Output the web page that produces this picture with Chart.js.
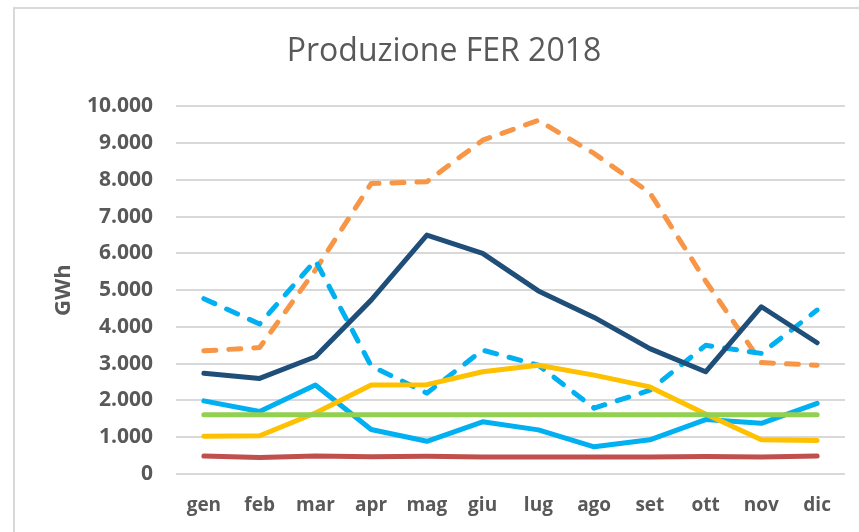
<!DOCTYPE html>
<html lang="it">
<head>
    <meta charset="UTF-8">
    <title>Produzione FER 2018</title>
    <script src="https://cdn.jsdelivr.net/npm/chart.js"></script>
    <style>
        html, body { margin: 0; padding: 0; background: #fff; overflow: hidden; }
        #wrap { position: relative; width: 859px; height: 532px; }
        #frame { position: absolute; left: 13px; top: 7px; width: 900px; height: 600px;
                 border: 2px solid #d9d9d9; box-sizing: border-box; }
        canvas { position: absolute; left: 0; top: 0; }
    </style>
</head>
<body>
    <div id="wrap">
        <div id="frame"></div>
        <canvas id="myChart" width="859" height="532"></canvas>
    </div>

    <script>
        // mesi e serie (GWh)
        const mesi = ['gen', 'feb', 'mar', 'apr', 'mag', 'giu', 'lug', 'ago', 'set', 'ott', 'nov', 'dic'];
        const serieArancio = [3350, 3440, 5550, 7900, 7950, 9080, 9620, 8720, 7650, 5250, 3030, 2960];
        const serieBlu = [2740, 2600, 3190, 4730, 6500, 6000, 4980, 4260, 3410, 2780, 4550, 3570];
        const serieAzzurroTratt = [4770, 4080, 5810, 2940, 2200, 3370, 2960, 1790, 2280, 3500, 3280, 4460];
        const serieAzzurro = [1990, 1700, 2420, 1210, 890, 1420, 1200, 740, 930, 1480, 1380, 1920];
        const serieGiallo = [1030, 1040, 1660, 2420, 2430, 2780, 2960, 2690, 2370, 1630, 930, 910];
        const serieVerde = [1610, 1610, 1610, 1610, 1610, 1610, 1610, 1610, 1610, 1610, 1610, 1610];
        const serieRosso = [490, 450, 490, 470, 480, 465, 465, 465, 465, 475, 465, 490];
        const tickY = [0, 1000, 2000, 3000, 4000, 5000, 6000, 7000, 8000, 9000, 10000];

        const grigio = '#595959';
        const font = 'Open Sans';

        function linea(dati, colore, tratteggio) {
            return {
                data: dati,
                borderColor: colore,
                backgroundColor: colore,
                borderWidth: 5,
                borderDash: tratteggio ? [12, 13] : [],
                borderCapStyle: 'round',
                borderJoinStyle: 'round',
                pointRadius: 0,
                tension: 0,
                fill: false
            };
        }

        const config = {
            type: 'line',
            data: {
                labels: mesi,
                datasets: [
                    linea(serieRosso, '#c0504d', false),
                    linea(serieVerde, '#92d050', false),
                    linea(serieGiallo, '#ffc000', false),
                    linea(serieAzzurro, '#00b0f0', false),
                    linea(serieBlu, '#1f4e79', false),
                    linea(serieAzzurroTratt, '#00b0f0', true),
                    linea(serieArancio, '#f79646', true)
                ]
            },
            options: {
                responsive: false,
                animation: false,
                layout: { padding: { left: 43, right: 14, top: 0, bottom: 0 } },
                plugins: {
                    legend: { display: false },
                    tooltip: { enabled: false },
                    title: {
                        display: true,
                        text: 'Produzione FER 2018',
                        color: grigio,
                        font: { family: font, size: 32, weight: 'normal' },
                        padding: { top: 33, bottom: 35 }
                    }
                },
                scales: {
                    x: {
                        offset: true,
                        afterFit: function (scale) {
                            scale.height = 58;
                            scale.paddingLeft = 0;
                            scale.paddingRight = 0;
                        },
                        grid: { display: false, drawTicks: false, offset: true },
                        border: { display: false },
                        ticks: {
                            color: grigio,
                            padding: 20,
                            maxRotation: 0,
                            font: { family: font, size: 19, weight: 'bold' }
                        }
                    },
                    y: {
                        min: 0,
                        max: 10000,
                        afterFit: function (scale) { scale.width = 133; },
                        afterBuildTicks: function (scale) {
                            scale.ticks = tickY.map(v => ({ value: v }));
                        },
                        grid: { color: '#d9d9d9', lineWidth: 2, drawTicks: false },
                        border: { display: false },
                        ticks: {
                            color: grigio,
                            padding: 23,
                            font: { family: font, size: 21, weight: 'bold' },
                            callback: v => v.toLocaleString('it-IT')
                        },
                        title: {
                            display: true,
                            text: 'GWh',
                            color: grigio,
                            font: { family: font, size: 22, weight: 'bold' },
                            padding: { top: 8, bottom: 0 }
                        }
                    }
                }
            }
        };

        new Chart(document.getElementById('myChart'), config);
    </script>
</body>
</html>
